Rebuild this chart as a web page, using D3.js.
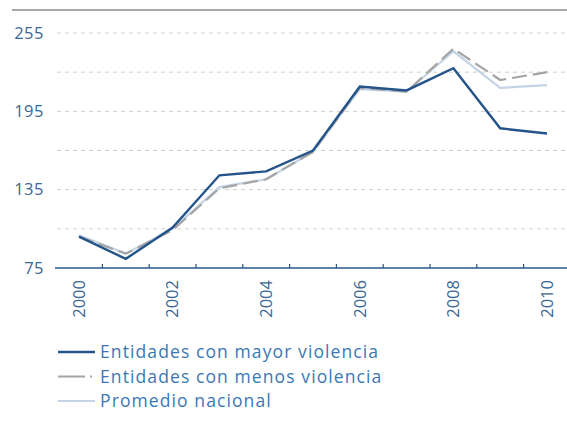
<!DOCTYPE html>
<html>
<head>
<meta charset="utf-8">
<script src="https://cdn.jsdelivr.net/npm/d3@7"></script>
<style>
  html, body { margin: 0; padding: 0; background: #ffffff; }
  svg { display: block; }
  text { font-family: "Open Sans", "Noto Sans", sans-serif; }
</style>
</head>
<body>
<div id="chart"></div>
<script>
// Index series, 2000-2010
const years = [2000, 2001, 2002, 2003, 2004, 2005, 2006, 2007, 2008, 2009, 2010];
const mayorViolencia = [99, 82, 106, 146, 149, 165, 214, 211, 228, 182, 178];
const menosViolencia = [99, 86, 104, 136, 143, 164, 213, 210, 243, 219, 225];
const promedioNacional = [100, 86, 105, 137, 143, 164, 212, 210, 241, 213, 215];
const yTicks = [75, 135, 195, 255];
const gridValues = [105, 135, 165, 195, 225, 255];
const yearLabels = [2000, 2002, 2004, 2006, 2008, 2010];
const legendLabels = [
  "Entidades con mayor violencia",
  "Entidades con menos violencia",
  "Promedio nacional"
];

const W = 567, H = 424;
const svg = d3.select("#chart").append("svg")
  .attr("width", W).attr("height", H);

const x = d3.scaleBand().domain(years).range([55.6, 570.4]);
const xc = d => x(d) + x.bandwidth() / 2;
const y = d3.scaleLinear().domain([75, 255]).range([268, 33]);

// top rule
svg.append("line")
  .attr("x1", 12).attr("x2", W).attr("y1", 10).attr("y2", 10)
  .attr("stroke", "#a8a8a8").attr("stroke-width", 2);

// dashed grid
svg.append("g").selectAll("line").data(gridValues).join("line")
  .attr("x1", 57).attr("x2", W)
  .attr("y1", d => y(d)).attr("y2", d => y(d))
  .attr("stroke", "#cfcfcf").attr("stroke-width", 1)
  .attr("stroke-dasharray", "4,4");

// y labels
svg.append("g").selectAll("text").data(yTicks).join("text")
  .attr("x", 44).attr("y", d => y(d))
  .attr("dy", "0.35em")
  .attr("text-anchor", "end")
  .attr("fill", "#3a6794")
  .attr("font-size", 16.5)
  .attr("letter-spacing", 0.5)
  .text(d => d);

// x axis baseline with band-edge ticks pointing up
const xAxisG = svg.append("g").attr("transform", `translate(0,${y(75)})`);
xAxisG.append("line")
  .attr("x1", 55).attr("x2", W)
  .attr("stroke", "#2a5785").attr("stroke-width", 1.5);
xAxisG.selectAll("line.tick").data(years.slice(1)).join("line")
  .attr("class", "tick")
  .attr("x1", d => x(d)).attr("x2", d => x(d))
  .attr("y1", 0).attr("y2", -4)
  .attr("stroke", "#2a5785").attr("stroke-width", 1.2);

// rotated year labels
svg.append("g").selectAll("text").data(yearLabels).join("text")
  .attr("transform", d => `translate(${xc(d)},${y(75) + 12}) rotate(-90)`)
  .attr("text-anchor", "end")
  .attr("dy", "0.35em")
  .attr("fill", "#3a6794")
  .attr("font-size", 16.5)
  .text(d => d);

const line = d3.line().x((d, i) => xc(years[i])).y(d => y(d));

const series = [
  { values: promedioNacional, color: "#c4d4e6", width: 2.2, dash: null },
  { values: menosViolencia, color: "#a4a4a4", width: 2.2, dash: "15,6" },
  { values: mayorViolencia, color: "#245489", width: 2.4, dash: null }
];

svg.append("g").selectAll("path").data(series).join("path")
  .attr("d", d => line(d.values))
  .attr("fill", "none")
  .attr("stroke", d => d.color)
  .attr("stroke-width", d => d.width)
  .attr("stroke-dasharray", d => d.dash)
  .attr("stroke-linejoin", "miter");

// legend
const legendItems = [
  { label: legendLabels[0], color: "#245489", width: 2.4, dash: null },
  { label: legendLabels[1], color: "#a4a4a4", width: 2.2, dash: "27,5,2,20" },
  { label: legendLabels[2], color: "#c4d4e6", width: 2, dash: null }
];
const lg = svg.append("g").selectAll("g").data(legendItems).join("g")
  .attr("transform", (d, i) => `translate(0,${352 + i * 24.5})`);
lg.append("line")
  .attr("x1", 58).attr("x2", 95)
  .attr("stroke", d => d.color)
  .attr("stroke-width", d => d.width)
  .attr("stroke-dasharray", d => d.dash);
lg.append("text")
  .attr("x", 100).attr("dy", "0.35em")
  .attr("fill", "#3b78b3")
  .attr("font-size", 17.5)
  .attr("letter-spacing", 1.1)
  .text(d => d.label);
</script>
</body>
</html>
